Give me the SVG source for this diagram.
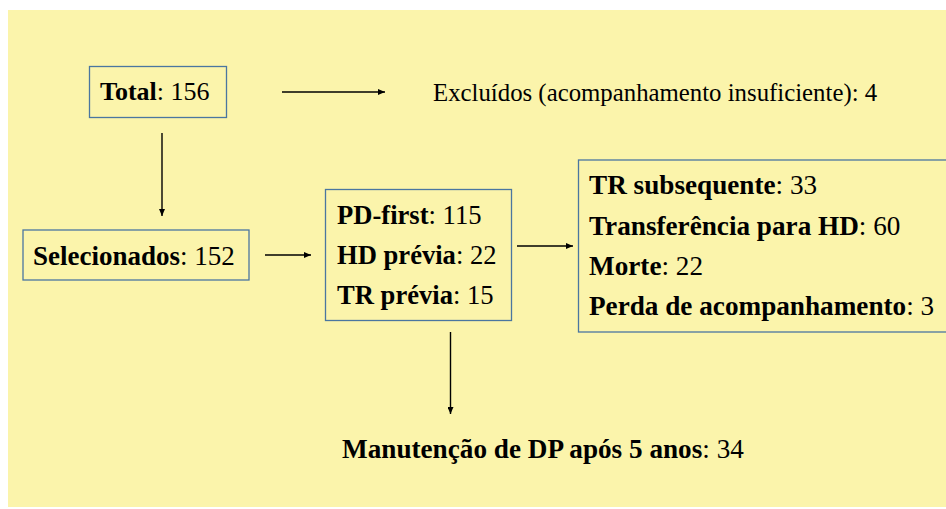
<svg xmlns="http://www.w3.org/2000/svg" width="946" height="509" viewBox="0 0 946 509">
<style>
.box{fill:none;stroke:#4a76a0;stroke-width:1.3}
.t{font-family:"Liberation Serif","Times New Roman",serif;fill:#000}
.b{font-weight:bold}
.c line{stroke:#000;stroke-width:1.4}
</style>
<defs>
<marker id="ah" markerWidth="8" markerHeight="6" refX="7" refY="3" orient="auto" markerUnits="userSpaceOnUse">
<path d="M0,0 L7,3 L0,6 Z" fill="#000"/>
</marker>
</defs>
<rect x="0" y="0" width="946" height="509" fill="#fff"/>
<rect x="8" y="10" width="938" height="497" fill="#fbf4ab"/>
<g id="total">
<rect class="box" x="89.5" y="66.5" width="137" height="51"/>
<text class="t" x="100" y="100" font-size="26"><tspan class="b">Total</tspan>: 156</text>
</g>
<g id="excluidos">
<text class="t" x="433" y="101" font-size="24.8">Excluídos (acompanhamento insuficiente): 4</text>
</g>
<g id="selecionados">
<rect class="box" x="23" y="230" width="226" height="50"/>
<text class="t" x="33" y="264.5" font-size="27"><tspan class="b">Selecionados</tspan>: 152</text>
</g>
<g id="grupos">
<rect class="box" x="325.5" y="189.5" width="186" height="131"/>
<text class="t" x="337" y="223.5" font-size="26.6"><tspan class="b">PD-first</tspan>: 115</text>
<text class="t" x="337" y="263.5" font-size="26.6"><tspan class="b">HD prévia</tspan>: 22</text>
<text class="t" x="337" y="303.5" font-size="26.6"><tspan class="b">TR prévia</tspan>: 15</text>
</g>
<g id="desfechos">
<rect class="box" x="578.5" y="160" width="380" height="172"/>
<text class="t" x="589" y="194" font-size="27.2"><tspan class="b">TR subsequente</tspan>: 33</text>
<text class="t" x="589" y="234.5" font-size="27.2"><tspan class="b">Transferência para HD</tspan>: 60</text>
<text class="t" x="589" y="275" font-size="27.2"><tspan class="b">Morte</tspan>: 22</text>
<text class="t" x="589" y="315" font-size="27.2"><tspan class="b">Perda de acompanhamento</tspan>: 3</text>
</g>
<g id="manutencao">
<text class="t" x="342" y="457.5" font-size="27.2"><tspan class="b">Manutenção de DP após 5 anos</tspan>: 34</text>
</g>
<g id="connectors" class="c">
<line x1="282" y1="92" x2="385" y2="92" marker-end="url(#ah)"/>
<line x1="162" y1="133" x2="162" y2="216" marker-end="url(#ah)"/>
<line x1="265" y1="255" x2="311" y2="255" marker-end="url(#ah)"/>
<line x1="517" y1="246" x2="573" y2="246" marker-end="url(#ah)"/>
<line x1="450.5" y1="332" x2="450.5" y2="414" marker-end="url(#ah)"/>
</g>
</svg>
